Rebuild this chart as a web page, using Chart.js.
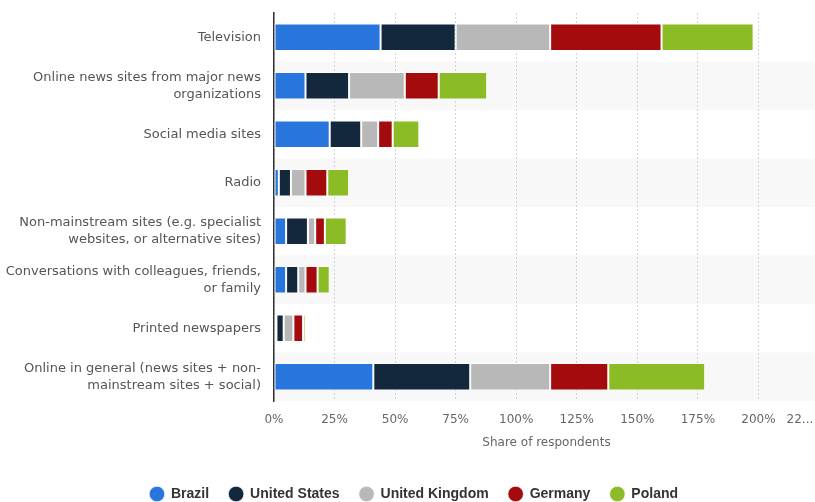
<!DOCTYPE html>
<html>
<head>
<meta charset="utf-8">
<script src="https://cdn.jsdelivr.net/npm/chart.js@4"></script>
<style>
  html, body { margin: 0; padding: 0; background: #fff; overflow: hidden; }
  #wrap { width: 815px; height: 502px; overflow: hidden; }
</style>
</head>
<body>
<div id="wrap"><canvas id="newsChart" width="819" height="502"></canvas></div>
<script>
const categories = [
    'Television',
    ['Online news sites from major news', 'organizations'],
    'Social media sites',
    'Radio',
    ['Non-mainstream sites (e.g. specialist', 'websites, or alternative sites)'],
    ['Conversations with colleagues, friends,', 'or family'],
    'Printed newspapers',
    ['Online in general (news sites + non-', 'mainstream sites + social)']
];

const brazil        = [44, 13, 23, 2, 5, 5, 1, 41];
const unitedStates  = [31, 18, 13, 5, 9, 5, 3, 40];
const unitedKingdom = [39, 23, 7, 6, 3, 3, 4, 33];
const germany       = [46, 14, 6, 9, 4, 5, 4, 24];
const poland        = [38, 20, 11, 9, 9, 5, 1, 40];

const xTicks = [0, 25, 50, 75, 100, 125, 150, 175, 200, 225];

const series = [
    { label: 'Brazil', data: brazil, color: '#2876dd' },
    { label: 'United States', data: unitedStates, color: '#13273d' },
    { label: 'United Kingdom', data: unitedKingdom, color: '#b8b8b8' },
    { label: 'Germany', data: germany, color: '#a40b0c' },
    { label: 'Poland', data: poland, color: '#8bbc26' }
];

// light stripes behind every second row
const rowBands = {
    id: 'rowBands',
    beforeDraw(chart) {
        const { ctx, chartArea, scales } = chart;
        const y = scales.y;
        const step = y.getPixelForValue(1) - y.getPixelForValue(0);
        ctx.save();
        ctx.fillStyle = '#f8f8f8';
        for (let i = 1; i < categories.length; i += 2) {
            const c = y.getPixelForValue(i);
            ctx.fillRect(chartArea.left, c - step / 2, chartArea.right - chartArea.left, step);
        }
        ctx.restore();
    }
};

// nudge the legend row a little to the right
const legendShift = {
    id: 'legendShift',
    afterLayout(chart) {
        if (chart.legend) chart.legend.left += 9;
    }
};

const ctx = document.getElementById('newsChart').getContext('2d');
const chart = new Chart(ctx, {
    type: 'bar',
    data: {
        labels: categories,
        datasets: series.map(s => ({
            label: s.label,
            data: s.data,
            backgroundColor: s.color,
            borderColor: 'rgba(255,255,255,0.7)',
            borderWidth: 1,
            borderSkipped: false,
            barPercentage: 0.57,
            categoryPercentage: 1
        }))
    },
    options: {
        indexAxis: 'y',
        responsive: false,
        animation: false,
        layout: { padding: { top: 13, right: 0, bottom: -9, left: 0 } },
        scales: {
            x: {
                stacked: true,
                min: 0,
                max: 225,
                afterBuildTicks: scale => {
                    scale.ticks = xTicks.map(v => ({ value: v }));
                },
                afterFit: scale => {
                    scale.paddingRight = 0;
                    scale.height = 66;
                },
                grid: {
                    color: '#d4d4d4',
                    drawTicks: false
                },
                border: { display: false, dash: [2, 2] },
                ticks: {
                    padding: 12,
                    color: '#666',
                    font: { family: 'DejaVu Sans', size: 12 },
                    maxRotation: 0,
                    autoSkip: false,
                    // last label is cut short, trailing spaces pull it left of its tick
                    callback: v => v === 225 ? '22...          ' : v + '%'
                },
                title: {
                    display: true,
                    text: 'Share of respondents',
                    color: '#666',
                    font: { family: 'DejaVu Sans', size: 12 },
                    padding: { top: 4, bottom: 17 }
                }
            },
            y: {
                stacked: true,
                afterFit: scale => {
                    scale.width = 274;
                    scale.paddingTop = 0;
                    scale.paddingBottom = 0;
                },
                grid: { display: false, drawTicks: false },
                border: { display: true, color: '#333', width: 1.5 },
                ticks: {
                    padding: 13,
                    color: '#555',
                    font: { family: 'DejaVu Sans', size: 13, lineHeight: 1.3 }
                }
            }
        },
        plugins: {
            legend: {
                position: 'bottom',
                labels: {
                    usePointStyle: true,
                    pointStyle: 'circle',
                    boxWidth: 14,
                    boxHeight: 11,
                    padding: 20,
                    color: '#333',
                    font: { family: 'Liberation Sans', size: 14, weight: 'bold' }
                }
            },
            tooltip: { enabled: false }
        }
    },
    plugins: [rowBands, legendShift]
});
</script>
</body>
</html>
